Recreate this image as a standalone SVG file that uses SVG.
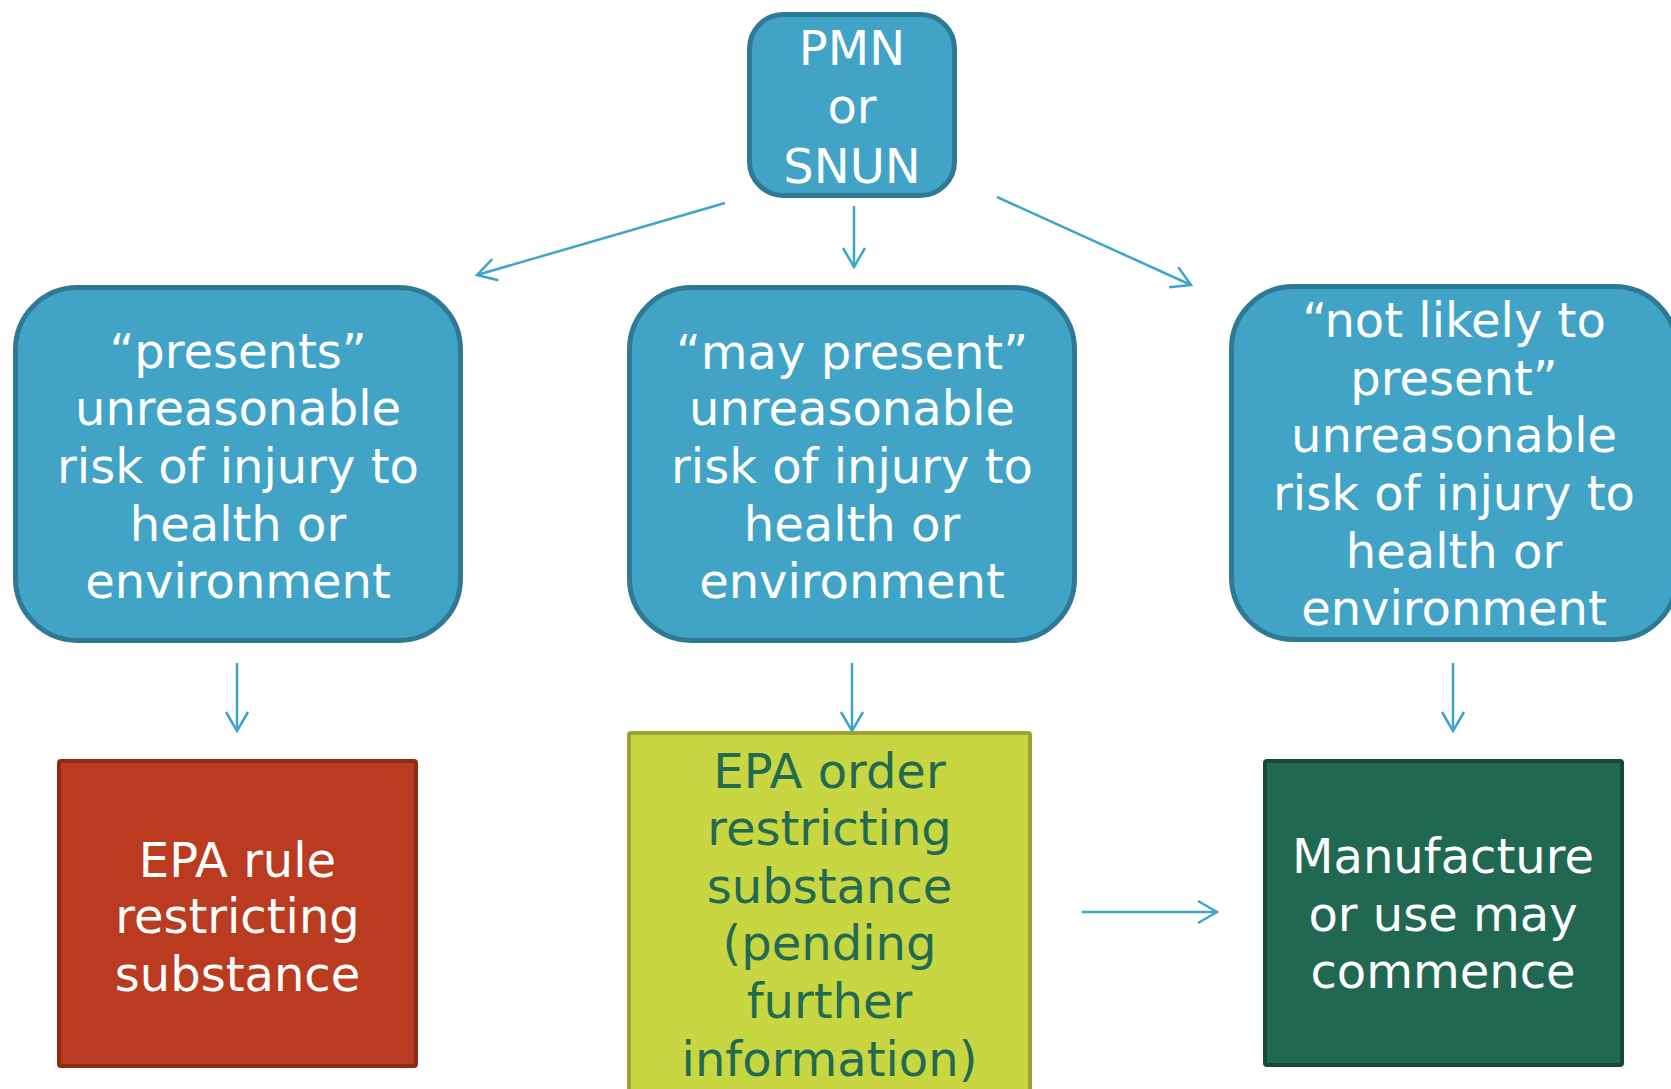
<svg xmlns="http://www.w3.org/2000/svg" width="1671" height="1089" viewBox="0 0 1671 1089">
  <defs>
    <style>
      .t { font-family: "DejaVu Sans", Verdana, sans-serif; font-size: 48px; text-anchor: middle; }
      .w { fill: #ffffff; }
      .g { fill: #226A52; }
      .teal { fill: #41A4C6; stroke: #2E7A96; stroke-width: 5; }
      .conn { stroke: #3DA5CB; stroke-width: 2.5; fill: none; marker-end: url(#ah); }
    </style>
    <marker id="ah" markerUnits="userSpaceOnUse" markerWidth="40" markerHeight="40" viewBox="-25 -20 40 40" refX="0" refY="0" orient="auto" overflow="visible">
      <path d="M-19,-11 L0,0 L-19,11" fill="none" stroke="#3DA5CB" stroke-width="2.5"/>
    </marker>
  </defs>
  <rect width="1671" height="1089" fill="#ffffff"/>

  <g id="connectors">
    <line class="conn" x1="725" y1="203" x2="477" y2="275"/>
    <line class="conn" x1="854" y1="206" x2="854" y2="267"/>
    <line class="conn" x1="997" y1="197" x2="1191" y2="285"/>
    <line class="conn" x1="237" y1="663" x2="237" y2="731"/>
    <line class="conn" x1="852" y1="663" x2="852" y2="731"/>
    <line class="conn" x1="1453" y1="663" x2="1453" y2="731"/>
    <line class="conn" x1="1082" y1="912" x2="1217" y2="912"/>
  </g>

  <g id="pmn">
    <rect class="teal" x="749.5" y="14.5" width="205" height="181" rx="34"/>
    <text class="t w" x="852" y="65">PMN</text>
    <text class="t w" x="852" y="123">or</text>
    <text class="t w" x="852" y="183">SNUN</text>
  </g>

  <g id="presents">
    <rect class="teal" x="15.5" y="287.5" width="445" height="353" rx="62"/>
    <text class="t w" x="238" y="368">“presents”</text>
    <text class="t w" x="238" y="425">unreasonable</text>
    <text class="t w" x="238" y="483">risk of injury to</text>
    <text class="t w" x="238" y="541">health or</text>
    <text class="t w" x="238" y="598">environment</text>
  </g>

  <g id="may-present">
    <rect class="teal" x="629.5" y="287.5" width="445" height="353" rx="62"/>
    <text class="t w" x="852" y="369">“may present”</text>
    <text class="t w" x="852" y="425">unreasonable</text>
    <text class="t w" x="852" y="483">risk of injury to</text>
    <text class="t w" x="852" y="541">health or</text>
    <text class="t w" x="852" y="598">environment</text>
  </g>

  <g id="not-likely">
    <rect class="teal" x="1231.5" y="286.5" width="445" height="353" rx="62"/>
    <text class="t w" x="1454" y="337">“not likely to</text>
    <text class="t w" x="1454" y="395">present”</text>
    <text class="t w" x="1454" y="452">unreasonable</text>
    <text class="t w" x="1454" y="510">risk of injury to</text>
    <text class="t w" x="1454" y="568">health or</text>
    <text class="t w" x="1454" y="625">environment</text>
  </g>

  <g id="epa-rule">
    <rect x="59" y="761" width="357" height="305" rx="2" fill="#BB3B20" stroke="#8E2B16" stroke-width="4"/>
    <text class="t w" x="237.5" y="877">EPA rule</text>
    <text class="t w" x="237.5" y="933">restricting</text>
    <text class="t w" x="237.5" y="991">substance</text>
  </g>

  <g id="epa-order">
    <rect x="629" y="733" width="401" height="380" rx="2" fill="#C8D641" stroke="#9BA431" stroke-width="4"/>
    <text class="t g" x="829.5" y="788">EPA order</text>
    <text class="t g" x="829.5" y="845">restricting</text>
    <text class="t g" x="829.5" y="903">substance</text>
    <text class="t g" x="829.5" y="960">(pending</text>
    <text class="t g" x="829.5" y="1018">further</text>
    <text class="t g" x="829.5" y="1076">information)</text>
  </g>

  <g id="commence">
    <rect x="1265" y="761" width="357" height="304" rx="2" fill="#216852" stroke="#17493A" stroke-width="4"/>
    <text class="t w" x="1443" y="873">Manufacture</text>
    <text class="t w" x="1443" y="931">or use may</text>
    <text class="t w" x="1443" y="988">commence</text>
  </g>
</svg>
